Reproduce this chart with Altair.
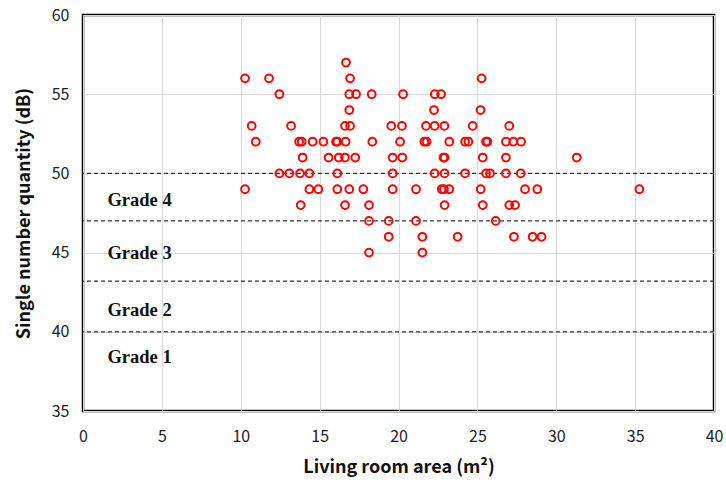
import altair as alt
import pandas as pd

# Measured living room areas (m²) grouped by single number quantity (dB)
area_57 = [16.67]
area_56 = [10.27, 11.79, 16.93, 25.27]
area_55 = [12.45, 16.88, 17.31, 18.30, 20.29, 22.30, 22.70]
area_54 = [16.88, 22.25, 25.20]
area_53 = [10.69, 13.19, 16.61, 16.93, 19.54, 20.22, 21.74, 22.29, 22.91, 24.70, 27.02]
area_52 = [10.95, 13.70, 13.86, 14.56, 15.24, 16.04, 16.12, 16.65, 18.34, 20.10,
           21.64, 21.78, 23.22, 24.22, 24.43, 25.55, 25.63, 26.81, 27.28, 27.77]
area_51 = [13.92, 15.57, 16.21, 16.61, 17.26, 19.63, 20.24, 22.85, 22.92, 25.34, 26.81, 31.30]
area_50 = [12.45, 13.08, 13.76, 14.35, 16.12, 19.63, 22.29, 22.92, 24.22, 25.55,
           25.80, 26.81, 27.75]
area_49 = [10.27, 14.35, 14.92, 16.12, 16.88, 17.77, 19.63, 21.11, 22.74, 22.88,
           23.22, 25.21, 28.02, 28.80, 35.27]
area_48 = [13.80, 16.61, 18.13, 22.92, 25.34, 27.02, 27.39]
area_47 = [18.13, 19.38, 21.11, 26.16]
area_46 = [19.38, 21.51, 23.75, 27.32, 28.50, 29.07]
area_45 = [18.13, 21.51]

levels = {57: area_57, 56: area_56, 55: area_55, 54: area_54, 53: area_53,
          52: area_52, 51: area_51, 50: area_50, 49: area_49, 48: area_48,
          47: area_47, 46: area_46, 45: area_45}

# Grade boundaries (dB) and grade label positions
grade_limits = [50, 47, 43.2, 40]
grade_names = ["Grade 4", "Grade 3", "Grade 2", "Grade 1"]
grade_label_y = [48.3, 45.0, 41.4, 38.4]
grade_label_x = [1.55, 1.55, 1.55, 1.55]

x_ticks = [0, 5, 10, 15, 20, 25, 30, 35, 40]
y_ticks = [35, 40, 45, 50, 55, 60]

points = pd.DataFrame(
    [{"area": a, "snq": db} for db, areas in levels.items() for a in areas]
)
limits = pd.DataFrame({"snq": grade_limits})
labels = pd.DataFrame({"area": grade_label_x, "snq": grade_label_y, "name": grade_names})

x_scale = alt.Scale(domain=[0, 40], nice=False, zero=False)
y_scale = alt.Scale(domain=[35, 60], nice=False, zero=False)

label_font = "Noto Sans CJK KR"

x_axis = alt.Axis(
    title="Living room area (m²)", values=x_ticks, grid=True, gridColor="#d9d9d9",
    ticks=False, domain=False, labelFlush=False, labelFont=label_font,
    labelFontSize=16, labelColor="#222222", labelPadding=17, titleFont=label_font,
    titleFontSize=18, titleFontWeight="bold", titleColor="#111111", titlePadding=14,
)
y_axis = alt.Axis(
    title="Single number quantity (dB)", values=y_ticks, grid=True, gridColor="#d9d9d9",
    ticks=False, domain=False, labelFlush=False, labelFont=label_font,
    labelFontSize=16, labelColor="#222222", labelPadding=14, titleFont=label_font,
    titleFontSize=18, titleFontWeight="bold", titleColor="#111111", titlePadding=18,
)

scatter = alt.Chart(points).mark_point(
    shape="circle", filled=False, color="#ff0000", size=60, strokeWidth=2, opacity=1
).encode(
    x=alt.X("area:Q", scale=x_scale, axis=x_axis),
    y=alt.Y("snq:Q", scale=y_scale, axis=y_axis),
)

rules = alt.Chart(limits).mark_rule(
    color="#333333", strokeDash=[4, 3], strokeWidth=1.2
).encode(y=alt.Y("snq:Q", scale=y_scale))

grade_text = alt.Chart(labels).mark_text(
    align="left", baseline="middle", font="Liberation Serif", fontSize=18.5,
    fontWeight="bold", color="#111111"
).encode(
    x=alt.X("area:Q", scale=x_scale),
    y=alt.Y("snq:Q", scale=y_scale),
    text="name:N",
)

chart = alt.layer(rules, grade_text, scatter).properties(
    width=631, height=396,
    autosize=alt.AutoSizeParams(type="none"),
    padding={"left": 83, "top": 15, "right": 12, "bottom": 74},
    background="white",
).configure_view(stroke="black", strokeWidth=2.5)

chart.save("out.html", embed_options={"renderer": "svg", "actions": False})
